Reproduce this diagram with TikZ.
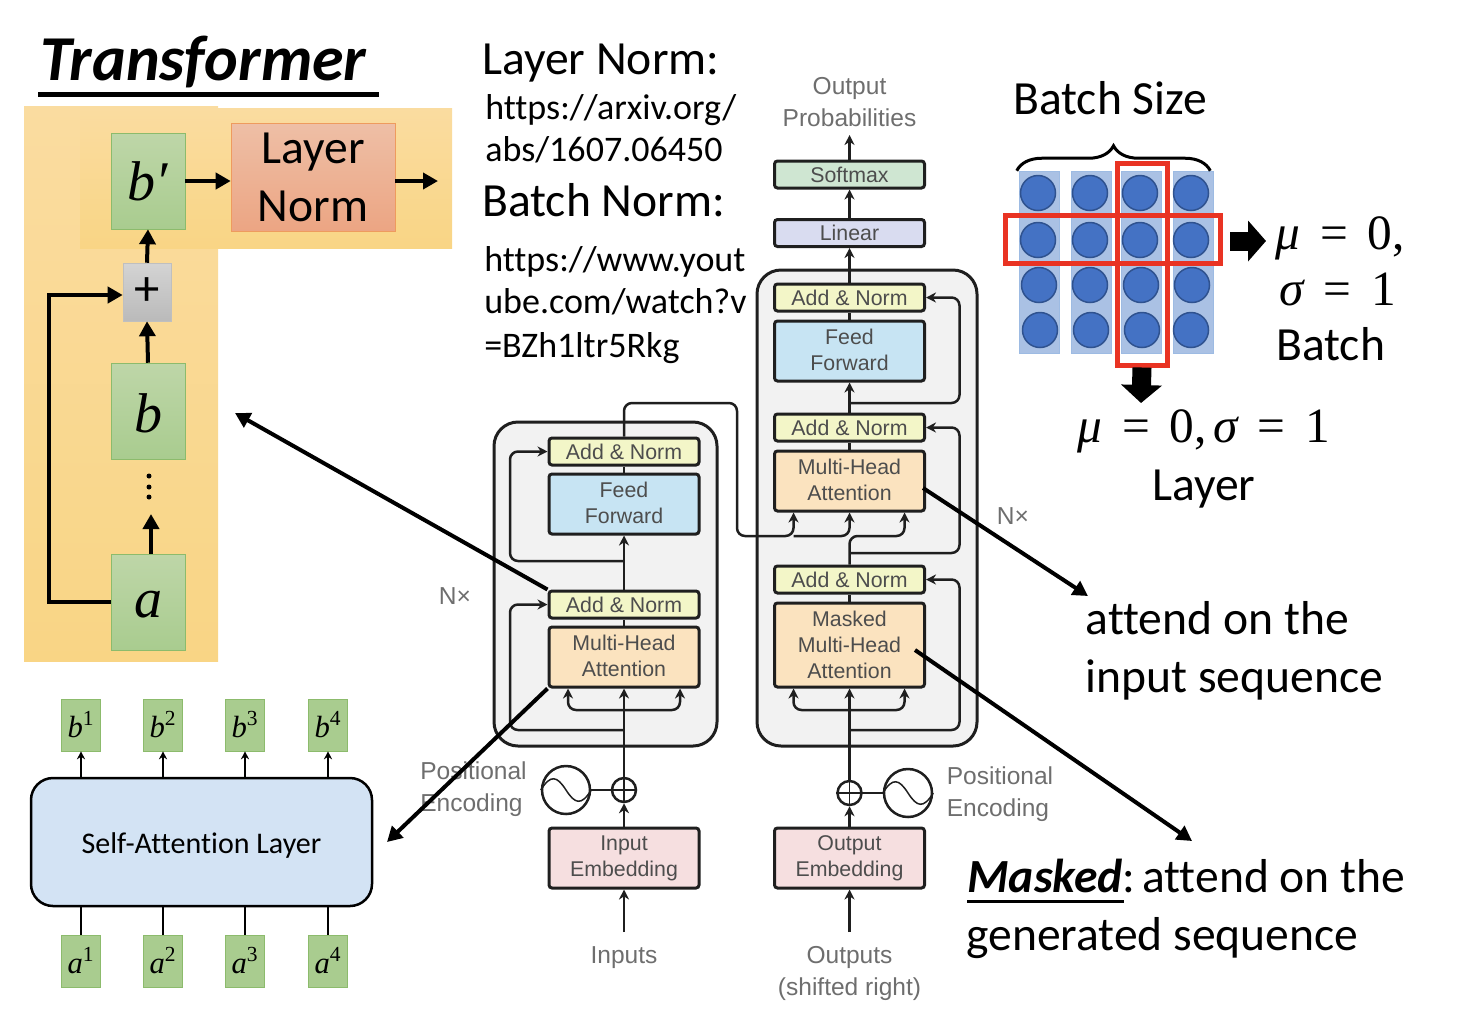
\documentclass[tikz,border=0pt]{standalone}
\usepackage{amsmath}
\usepackage{fontspec}
\setmainfont[Ligatures=NoCommon]{Carlito}
\newfontfamily\figfont{Liberation Sans}
\newfontfamily\symfont{Liberation Serif}
\usetikzlibrary{arrows.meta,decorations.pathreplacing}
\newlength{\px}
\setlength{\px}{0.75pt}
\newcommand{\sym}[1]{{\symfont\itshape #1}}
\newcommand{\eqgap}{\hspace{15pt}}
\definecolor{figtext}{HTML}{4D4D4D}
\definecolor{figlabel}{HTML}{6E6E6E}
\definecolor{figline}{HTML}{1F1F1F}
\definecolor{redbox}{HTML}{E93323}
\definecolor{greentop}{HTML}{BED6A8}
\definecolor{greenbot}{HTML}{A9CC8F}
\definecolor{greenedge}{HTML}{8CBB6C}
\definecolor{orangetop}{HTML}{FADCA0}
\definecolor{orangebot}{HTML}{F9D585}
\definecolor{normtop}{HTML}{EEBFA6}
\definecolor{normbot}{HTML}{ECA583}
\definecolor{normedge}{HTML}{EE9B5E}
\definecolor{dotfill}{HTML}{4472C4}
\definecolor{dotedge}{HTML}{2F528F}
\definecolor{colfill}{HTML}{AAC1E4}
\definecolor{coledge}{HTML}{9DBBE3}
\tikzset{
  bigtxt/.style={anchor=base west,inner sep=0pt,font=\fontsize{35.7}{40}\selectfont},
  symtxt/.style={anchor=base west,inner sep=0pt,font=\symfont\fontsize{37}{40}\selectfont},
  urltxt/.style={anchor=base west,inner sep=0pt,font=\fontsize{27}{32}\selectfont},
  lblock/.style={inner sep=0pt,minimum width=74\px,minimum height=96\px,draw=greenedge,
    top color=greentop,bottom color=greenbot,font=\fontsize{42}{44}\selectfont},
  gblock/.style={inner sep=0pt,minimum width=39\px,minimum height=52\px,draw=greenedge,
    fill=greenbot,font=\fontsize{23}{26}\selectfont},
  thick arrow/.style={line width=4\px,-{Triangle[length=11.25pt,width=12pt]}},
  big arrow/.style={line width=19\px,-{Triangle[length=13.5pt,width=30pt]}},
  enc/.style={draw=figline,line width=3\px,rounded corners=3\px,inner sep=0pt,minimum width=150\px,
    text=figtext,align=center,font=\figfont\fontsize{16}{19.5}\selectfont},
  addnorm/.style={enc,fill={rgb,255:red,243;green,246;blue,200},minimum height=27\px},
  feedf/.style={enc,fill={rgb,255:red,199;green,228;blue,243},minimum height=60\px},
  mhatt/.style={enc,fill={rgb,255:red,251;green,227;blue,191},minimum height=60\px},
  embed/.style={enc,fill={rgb,255:red,246;green,223;blue,224},minimum height=60\px},
  stack/.style={draw=figline,line width=3\px,fill=black!5,rounded corners=24\px},
  wire/.style={draw=figline,line width=2.5\px},
  awire/.style={wire,-{Stealth[length=7.5pt,width=7.5pt]}},
  rwire/.style={awire,rounded corners=8\px},
  figlbl/.style={text=figlabel,inner sep=0pt,font=\figfont\fontsize{18.4}{23.5}\selectfont,align=center},
  dot/.style={circle,draw=dotedge,line width=1.5\px,fill=dotfill,inner sep=0pt,minimum size=35\px}
}
\begin{document}
\begin{tikzpicture}[x=\px,y=-\px]
\useasboundingbox (0,0) rectangle (1458,1008);

\node[anchor=base west,inner sep=0pt,font=\fontsize{48}{50}\selectfont\bfseries\itshape] (title) at (40,80) {Transformer};
\fill (38,92) rectangle (379,97);

% left block
\shade[top color=orangetop,bottom color=orangebot] (24,106) rectangle (218,661);
\shade[top color=orangetop,bottom color=orangebot] (80,108) rectangle (452,248);
\node[lblock] (bp) at (148,181) {\sym{b′}};
\node[inner sep=0pt,minimum width=164\px,minimum height=108\px,draw=normedge,
  top color=normtop,bottom color=normbot,align=center,
  font=\fontsize{35.7}{43.5}\selectfont] (lnorm) at (313,177) {Layer\\Norm};
\node[inner sep=0pt,minimum width=48\px,minimum height=58\px,draw=black!25,top color=black!17,bottom color=black!27,
  font=\fontsize{38}{40}\selectfont] (plus) at (147,292) {+};
\node[lblock] (b) at (148,411) {\raisebox{-15.8pt}[0pt][0pt]{\sym{b}}};
\node[lblock] (a) at (148,602) {\raisebox{-11.7pt}[0pt][0pt]{\sym{a}}};
\fill (149,476) circle (2.5) (149,487) circle (2.5) (149,497) circle (2.5);
\coordinate (lout) at (438,181);
\coordinate (adots) at (151,514);
\draw[thick arrow] (a.north -| adots) -- (adots);
\draw[thick arrow] (b.north) -- (plus.south);
\draw[thick arrow] (plus.north) -- (bp.south);
\draw[thick arrow] (bp.east) -- (bp.east -| lnorm.west);
\draw[thick arrow] (bp.east -| lnorm.east) -- (lout);
\coordinate (skip) at (49,295);
\draw[thick arrow] (a.west) -| (skip) -- (skip -| plus.west);

% self-attention layer
\node[draw,line width=2.5\px,rounded corners=22\px,fill={rgb,255:red,211;green,227;blue,244},inner sep=0pt,
  minimum width=341\px,minimum height=128\px,font=\fontsize{22.5}{26}\selectfont] (sa) at (201.5,842) {\raisebox{-8.5pt}[0pt][0pt]{Self-Attention Layer}};
\foreach \i/\x in {1/81,2/163,3/245,4/328} {
  \node[gblock] (bb\i) at (\x,725) {\sym{b}\textsuperscript{\symfont\upshape\i}};
  \node[gblock] (aa\i) at (\x,961) {\sym{a}\textsuperscript{\symfont\upshape\i}};
  \draw[line width=1.5\px,-{Stealth[length=6pt,width=6pt]}] (bb\i.south |- sa.north) -- (bb\i.south);
  \draw[line width=1.5\px] (aa\i.north) -- (aa\i.north |- sa.south);
}

% encoder and decoder stacks
\node[stack,minimum width=223\px,minimum height=324\px,inner sep=0pt] (enc) at (605.5,584) {};
\node[stack,minimum width=220\px,minimum height=476\px,inner sep=0pt] (dec) at (867,508) {};

\node[addnorm] (en2) at (624,451.5) {Add \& Norm};
\node[feedf] (enf) at (624,504) {\raisebox{1.5pt}{Feed}\\\raisebox{1.5pt}{Forward}};
\node[addnorm] (en1) at (624,604.5) {Add \& Norm};
\node[mhatt] (enm) at (624,657) {\raisebox{1.5pt}{Multi-Head}\\\raisebox{1.5pt}{Attention}};
\node[embed] (ine) at (624,858) {Input\\Embedding};

\node[addnorm,fill={rgb,255:red,207;green,230;blue,210}] (soft) at (849.5,174.5) {Softmax};
\node[addnorm,fill={rgb,255:red,217;green,220;blue,240}] (lin) at (849.5,233) {Linear};
\node[addnorm] (de3) at (849.5,297.5) {Add \& Norm};
\node[feedf] (def) at (849.5,351) {\raisebox{1.5pt}{Feed}\\\raisebox{1.5pt}{Forward}};
\node[addnorm] (de2) at (849.5,427.5) {Add \& Norm};
\node[mhatt] (dem) at (849.5,481) {\raisebox{1.5pt}{Multi-Head}\\\raisebox{1.5pt}{Attention}};
\node[addnorm] (de1) at (849.5,579.5) {Add \& Norm};
\node[mhatt,minimum height=84\px] (mas) at (849.5,645) {Masked\\Multi-Head\\Attention};
\node[embed] (oute) at (849.5,858) {Output\\Embedding};

\node[figlbl] (outp) at (849.5,102) {Output\\Probabilities};
\node[figlbl] (inp) at (624,958) {Inputs};
\node[figlbl] (outs) at (849.5,973.5) {Outputs\\(shifted right)};
\node[figlbl] (nxl) at (455,596) {N×};
\node[figlbl] (nxr) at (1013,516) {N×};
\node[figlbl,align=left] (pel) at (473.5,789) {Positional\\Encoding};
\node[figlbl,align=left] (per) at (1000,794) {Positional\\Encoding};

\node[circle,wire,fill=white,inner sep=0pt,minimum size=24\px] (pluse) at (624,790) {};
\node[circle,wire,fill=white,inner sep=0pt,minimum size=24\px] (plusd) at (849.5,793) {};
\node[circle,wire,inner sep=0pt,minimum size=48\px] (sinl) at (566,790) {};
\node[circle,wire,inner sep=0pt,minimum size=48\px] (sinr) at (908,793) {};
\foreach \s in {sinl,sinr} {
  \draw[wire,line width=1.5\px] (\s.west) .. controls +(10,-16) and +(-9,-14) .. (\s.center) .. controls +(9,14) and +(-10,16) .. (\s.east);
}
\foreach \s in {pluse,plusd} {
  \draw[wire,line width=1.5\px] (\s.west) -- (\s.east);
  \draw[wire,line width=1.5\px] (\s.north) -- (\s.south);
}
\draw[wire] (sinl.east) -- (pluse.west);
\draw[wire] (plusd.east) -- (sinr.west);

% encoder wires
\coordinate (eb) at (624,710);
\coordinate (er1) at (624,730);
\coordinate (er2) at (624,561);
\coordinate (inbot) at (624,932);
\draw[awire] (inbot) -- (ine.south);
\draw[awire] (ine.north) -- (pluse.south);
\draw[awire] (pluse.north) -- (enm.south);
\draw[rwire] (eb) -- ++(-56,0) -- ([xshift=-56\px]enm.south);
\draw[rwire] (eb) -- ++(56,0) -- ([xshift=56\px]enm.south);
\draw[rwire] (er1) -- ++(-114,0) |- (en1.west);
\draw[wire] (enm.north) -- (en1.south);
\draw[awire] (en1.north) -- (enf.south);
\draw[rwire] (er2) -- ++(-114,0) |- (en2.west);
\draw[wire] (enf.north) -- (en2.south);

% decoder wires
\coordinate (db) at (849.5,710);
\coordinate (dr1) at (849.5,730);
\coordinate (dr2) at (849.5,553);
\coordinate (dr3) at (849.5,403);
\coordinate (cross) at (849.5,536);
\coordinate (bendt) at (737,403);
\coordinate (bendb) at (737,536);
\coordinate (outbot) at (849.5,932);
\coordinate (outtop) at (849.5,135);
\draw[awire] (outbot) -- (oute.south);
\draw[awire] (oute.north) -- (plusd.south);
\draw[awire] (plusd.north) -- (mas.south);
\draw[rwire] (db) -- ++(-56,0) -- ([xshift=-56\px]mas.south);
\draw[rwire] (db) -- ++(55,0) -- ([xshift=55\px]mas.south);
\draw[rwire] (dr1) -- ++(110,0) |- (de1.east);
\draw[wire] (mas.north) -- (de1.south);
\draw[rwire] (de1.north) -- (cross) -- ++(55,0) -- ([xshift=55\px]dem.south);
\draw[rwire] (dr2) -- ++(110,0) |- (de2.east);
\draw[wire] (dem.north) -- (de2.south);
\draw[awire] (de2.north) -- (def.south);
\draw[rwire] (dr3) -- ++(110,0) |- (de3.east);
\draw[wire] (def.north) -- (de3.south);
\draw[awire] (de3.north) -- (lin.south);
\draw[awire] (lin.north) -- (soft.south);
\draw[awire] (soft.north) -- (outtop);
\draw[rwire] (en2.north) |- (bendt) -- (bendb) -- ([xshift=-56\px]cross) -- ([xshift=-56\px]dem.south);
\draw[rwire] ([xshift=-56\px]cross) -- (cross) -- (dem.south);

% arrows across the figure
\coordinate (tob) at (235,413);
\coordinate (tosa) at (387,842);
\coordinate (toin) at (1088,596);
\coordinate (toout) at (1192,841);
\draw[thick arrow] (en1.north west) -- (tob);
\draw[thick arrow] (enm.south west) -- (tosa);
\draw[thick arrow] ([shift={(-3,7)}]dem.east) -- (toin);
\draw[thick arrow] ([shift={(-11,5)}]mas.east) -- (toout);

% text
\node[bigtxt] (t1) at (482,74) {Layer Norm:};
\node[urltxt] (t2) at (485,119) {https://arxiv.org/};
\node[urltxt] (t3) at (485,161) {abs/1607.06450};
\node[bigtxt] (t4) at (482,216) {Batch Norm:};
\node[urltxt] (t5) at (484,271) {https://www.yout};
\node[urltxt] (t6) at (484,313) {ube.com/watch?v};
\node[urltxt] (t7) at (484,357) {=BZh1ltr5Rkg};
\node[bigtxt] (t8) at (1085.5,634) {attend on the};
\node[bigtxt] (t9) at (1085.5,692) {input sequence};
\node[bigtxt] (t10) at (967,892) {{\bfseries\itshape Masked}:\kern-3pt\ attend on the};
\fill (967,900) rectangle (1124,903);
\node[bigtxt] (t11) at (966,950) {generated sequence};

% batch grid
\foreach \c/\x in {1/1039,2/1091,3/1141,4/1193} {
  \node[draw=coledge,fill=colfill,inner sep=0pt,minimum width=40\px,minimum height=182\px] (col\c) at (\x,262) {};
}
\foreach \r/\y/\xa/\xb/\xc/\xd in {1/193/1038/1090/1140/1191,2/240/1038/1090/1140/1191,3/285/1039/1090/1141/1192,4/330/1040/1091/1142/1191} {
  \node[dot] (d\r1) at (\xa,\y) {};
  \node[dot] (d\r2) at (\xb,\y) {};
  \node[dot] (d\r3) at (\xc,\y) {};
  \node[dot] (d\r4) at (\xd,\y) {};
}
\node[draw=redbox,line width=5\px,inner sep=0pt,minimum width=215\px,minimum height=48\px] (rowbox) at (1112.5,239) {};
\node[draw=redbox,line width=5\px,inner sep=0pt,minimum width=50\px,minimum height=202\px] (colbox) at (1142,264) {};
\draw[line width=3\px,decorate,decoration={brace,amplitude=25\px}] ([xshift=-2\px]col1.north west) -- ([xshift=-3\px]col4.north east);
\coordinate (rowfrom) at (1230,241);
\coordinate (rowto) at (1266,241);
\coordinate (colto) at (1141,403);
\draw[big arrow] (rowfrom) -- (rowto);
\draw[big arrow] (colbox.south) -- (colto);

\node[bigtxt] (t12) at (1013,114) {Batch Size};
\node[symtxt] (m1) at (1275,249) {\sym{μ}\eqgap=\eqgap0,};
\node[symtxt] (m2) at (1279,305) {\sym{σ}\eqgap=\eqgap1};
\node[bigtxt] (m3) at (1276,360) {Batch};
\node[symtxt] (m4) at (1077,442) {\sym{μ}\eqgap=\eqgap0,\hspace{5pt}\sym{σ}\eqgap=\eqgap1};
\node[bigtxt] (m5) at (1152,500) {Layer};
\end{tikzpicture}
\end{document}
